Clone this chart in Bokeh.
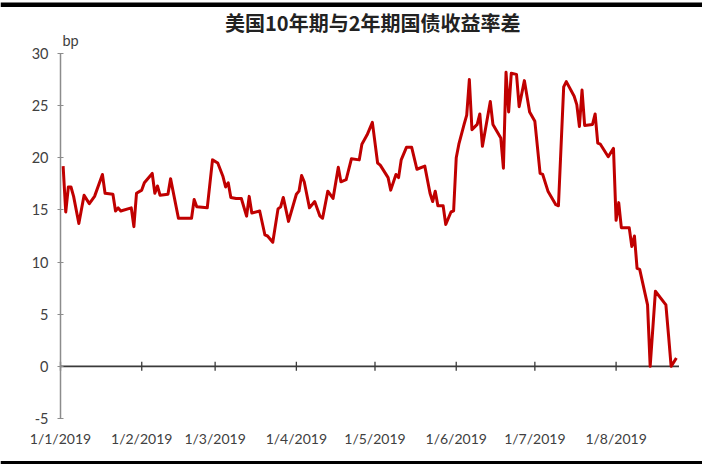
import pandas as pd
from bokeh.plotting import figure
from bokeh.models import (ColumnDataSource, FixedTicker, Range1d, Label,
                          LinearAxis, DatetimeAxis, BoxAnnotation)
from bokeh.embed import file_html
from bokeh.resources import INLINE

title_text = "美国10年期与2年期国债收益率差"
unit_text = "bp"

dates = [
    "2019-01-02", "2019-01-03", "2019-01-04", "2019-01-05", "2019-01-06", "2019-01-08", "2019-01-10",
    "2019-01-12", "2019-01-14", "2019-01-17", "2019-01-18", "2019-01-21", "2019-01-22", "2019-01-23",
    "2019-01-24", "2019-01-28", "2019-01-29", "2019-01-30",
    "2019-02-01", "2019-02-02", "2019-02-05", "2019-02-06", "2019-02-07", "2019-02-08", "2019-02-11",
    "2019-02-12", "2019-02-15", "2019-02-20", "2019-02-21", "2019-02-22", "2019-02-26", "2019-02-28",
    "2019-03-02", "2019-03-04", "2019-03-05", "2019-03-06", "2019-03-07", "2019-03-09", "2019-03-11",
    "2019-03-13", "2019-03-14", "2019-03-15", "2019-03-18", "2019-03-20", "2019-03-21", "2019-03-23",
    "2019-03-25", "2019-03-26", "2019-03-27", "2019-03-29",
    "2019-04-01", "2019-04-02", "2019-04-03", "2019-04-04", "2019-04-06", "2019-04-08", "2019-04-10",
    "2019-04-11", "2019-04-13", "2019-04-15", "2019-04-17", "2019-04-18", "2019-04-20", "2019-04-22",
    "2019-04-25", "2019-04-26", "2019-04-28", "2019-04-29", "2019-04-30",
    "2019-05-02", "2019-05-03", "2019-05-06", "2019-05-07", "2019-05-09", "2019-05-10", "2019-05-11",
    "2019-05-13", "2019-05-15", "2019-05-17", "2019-05-20", "2019-05-22", "2019-05-23", "2019-05-24",
    "2019-05-25", "2019-05-27", "2019-05-28", "2019-05-30", "2019-05-31",
    "2019-06-01", "2019-06-02", "2019-06-04", "2019-06-05", "2019-06-06", "2019-06-07", "2019-06-09",
    "2019-06-10", "2019-06-11", "2019-06-14", "2019-06-15", "2019-06-18", "2019-06-19", "2019-06-20",
    "2019-06-21", "2019-06-22", "2019-06-24", "2019-06-25", "2019-06-27", "2019-06-29",
    "2019-07-01", "2019-07-03", "2019-07-04", "2019-07-06", "2019-07-09", "2019-07-10", "2019-07-12",
    "2019-07-13", "2019-07-16", "2019-07-17", "2019-07-18", "2019-07-19", "2019-07-20", "2019-07-23",
    "2019-07-24", "2019-07-25", "2019-07-26", "2019-07-29", "2019-07-31",
    "2019-08-01", "2019-08-02", "2019-08-03", "2019-08-06", "2019-08-07", "2019-08-08", "2019-08-09",
    "2019-08-10", "2019-08-13", "2019-08-14", "2019-08-16", "2019-08-20", "2019-08-21", "2019-08-22",
    "2019-08-24",
]

spread_bp = [
    19.2, 14.8, 17.2, 17.2, 16.3, 13.7, 16.4, 15.6, 16.3, 18.4, 16.6, 16.5, 14.9, 15.2, 14.9, 15.2, 13.4, 16.6,
    16.9, 17.6, 18.5, 16.6, 17.3, 16.4, 16.5, 18.0, 14.2, 14.2, 16.0, 15.3, 15.2, 19.8,
    19.5, 18.2, 17.2, 17.6, 16.2, 16.1, 16.1, 14.4, 16.3, 14.7, 14.9, 12.6, 12.5, 11.9, 15.1, 15.3, 16.2, 13.9,
    16.5, 16.8, 18.3, 17.7, 15.2, 15.8, 14.4, 14.2, 16.8, 16.1, 19.1, 17.7, 17.9, 19.9, 19.8, 21.3, 22.2, 22.8, 23.4,
    19.5, 19.3, 18.1, 16.9, 18.4, 18.1, 19.8, 21.0, 21.0, 18.9, 19.2, 16.6, 15.8, 16.8, 15.4, 15.4, 13.6, 14.8, 14.9,
    20.0, 21.3, 23.2, 24.1, 27.5, 22.7, 23.2, 24.2, 21.1, 25.4, 23.2, 21.9, 19.0, 28.2, 24.4, 28.1, 28.0, 24.9, 27.4, 24.4,
    23.5, 18.5, 18.4, 16.8, 15.5, 15.4, 26.8, 27.3, 25.9, 25.1, 23.0, 26.5, 23.1, 23.2, 24.2, 21.4, 21.3, 20.1, 20.9,
    14.0, 15.7, 13.3, 13.3, 11.5, 12.5, 9.4, 9.3, 5.9, 0.0, 7.2, 5.9, 3.0, 0.0, 0.8,
]

month_ticks = ["2019-01-01", "2019-02-01", "2019-03-01", "2019-04-01",
               "2019-05-01", "2019-06-01", "2019-07-01", "2019-08-01"]
month_labels = ["1/1/2019", "1/2/2019", "1/3/2019", "1/4/2019",
                "1/5/2019", "1/6/2019", "1/7/2019", "1/8/2019"]
y_ticks = [-5, 0, 5, 10, 15, 20, 25, 30]
y_tick_labels = ["-5", "0", "5", "10", "15", "20", "25", "30"]
x_start, x_end = "2019-01-01", "2019-08-25"


def to_ms(d):
    return float(pd.Timestamp(d).value // 10**6)


source = ColumnDataSource(dict(date=pd.to_datetime(dates), spread=spread_bp))
tick_ms = [to_ms(d) for d in month_ticks]
tick_src = ColumnDataSource(dict(x=tick_ms, y=[0] * len(tick_ms)))

# ---- layout (pixels on the 702 x 464 page); the frame fills the whole page ----
W, H = 702, 464
AXIS_LEFT_PX, AXIS_RIGHT_PX = 60, 678.5      # x_start / x_end positions
AXIS_TOP_PX, AXIS_BOTTOM_PX = 53, 418        # y = 30 / y = -5 positions
ms_per_px = (to_ms(x_end) - to_ms(x_start)) / (AXIS_RIGHT_PX - AXIS_LEFT_PX)
unit_per_px = (max(y_ticks) - min(y_ticks)) / (AXIS_BOTTOM_PX - AXIS_TOP_PX)
x_lo = to_ms(x_start) - AXIS_LEFT_PX * ms_per_px
x_hi = to_ms(x_start) + (W - AXIS_LEFT_PX) * ms_per_px
y_hi = max(y_ticks) + AXIS_TOP_PX * unit_per_px
y_lo = min(y_ticks) - (H - AXIS_BOTTOM_PX) * unit_per_px


def y_at_px(py):
    return y_hi - py * unit_per_px


FONT = "Lato"
LABEL_COLOR = "#404040"

p = figure(width=W, height=H, x_axis_type=None, y_axis_type=None,
           x_range=Range1d(x_lo, x_hi), y_range=Range1d(y_lo, y_hi),
           output_backend="svg", toolbar_location=None, title=None,
           min_border=0, min_border_left=0, min_border_right=0,
           min_border_top=0, min_border_bottom=0)

p.background_fill_color = "white"
p.border_fill_color = "white"
p.outline_line_color = None
p.xgrid.visible = False
p.ygrid.visible = False

# black rules at the top and bottom of the page
p.add_layout(BoxAnnotation(top=y_at_px(2), bottom=y_at_px(6.5), fill_color="black",
                           fill_alpha=1, line_color=None, level="underlay"))
p.add_layout(BoxAnnotation(top=y_at_px(460.5), fill_color="black",
                           fill_alpha=1, line_color=None, level="underlay"))

# zero line (x axis line) with month ticks
p.segment(x0=[to_ms(x_start)], y0=[0], x1=[to_ms(x_end)], y1=[0],
          line_color="#3a3a3a", line_width=1.6)
p.scatter("x", "y", source=tick_src, marker="dash", angle=1.5708, size=9,
          line_color="#3a3a3a", line_width=1.3)

p.line("date", "spread", source=source, line_color="#C00000", line_width=3, line_join="round")

# x labels axis, anchored at y=-5
xa = DatetimeAxis(fixed_location=min(y_ticks), ticker=FixedTicker(ticks=tick_ms))
xa.major_label_overrides = {t: lab for t, lab in zip(tick_ms, month_labels)}
xa.axis_line_color = None
xa.major_tick_line_color = None
xa.minor_tick_line_color = None
xa.major_tick_out = 0
xa.major_tick_in = 0
xa.major_label_standoff = 11
xa.major_label_text_font = FONT
xa.major_label_text_font_size = "14px"
xa.major_label_text_color = LABEL_COLOR
p.add_layout(xa, "below")

# y axis anchored at x_start
ya = LinearAxis(fixed_location=to_ms(x_start), ticker=FixedTicker(ticks=y_ticks))
ya.major_label_overrides = {t: lab for t, lab in zip(y_ticks, y_tick_labels)}
ya.bounds = (min(y_ticks), max(y_ticks))
ya.axis_line_color = "#8c8c8c"
ya.axis_line_width = 1.5
ya.major_tick_line_color = "#8c8c8c"
ya.major_tick_line_width = 1.2
ya.major_tick_in = 3
ya.major_tick_out = 3
ya.minor_tick_line_color = None
ya.major_label_standoff = 9
ya.major_label_text_font = FONT
ya.major_label_text_font_size = "14.5px"
ya.major_label_text_color = LABEL_COLOR
p.add_layout(ya, "left")

bp = Label(x=to_ms(x_start), y=max(y_ticks), text=unit_text, x_offset=2, y_offset=13,
           text_baseline="middle", text_align="left",
           text_font=FONT, text_font_size="14.5px", text_color=LABEL_COLOR)
p.add_layout(bp)

title = Label(x=(to_ms(x_start) + to_ms(x_end)) / 2, y=max(y_ticks), text=title_text,
              x_offset=3, y_offset=31, text_baseline="middle", text_align="center",
              text_font="Noto Sans CJK SC", text_font_size="20px", text_font_style="bold",
              text_color="#222222")
p.add_layout(title)

open("out.html", "w").write(file_html(p, INLINE))
